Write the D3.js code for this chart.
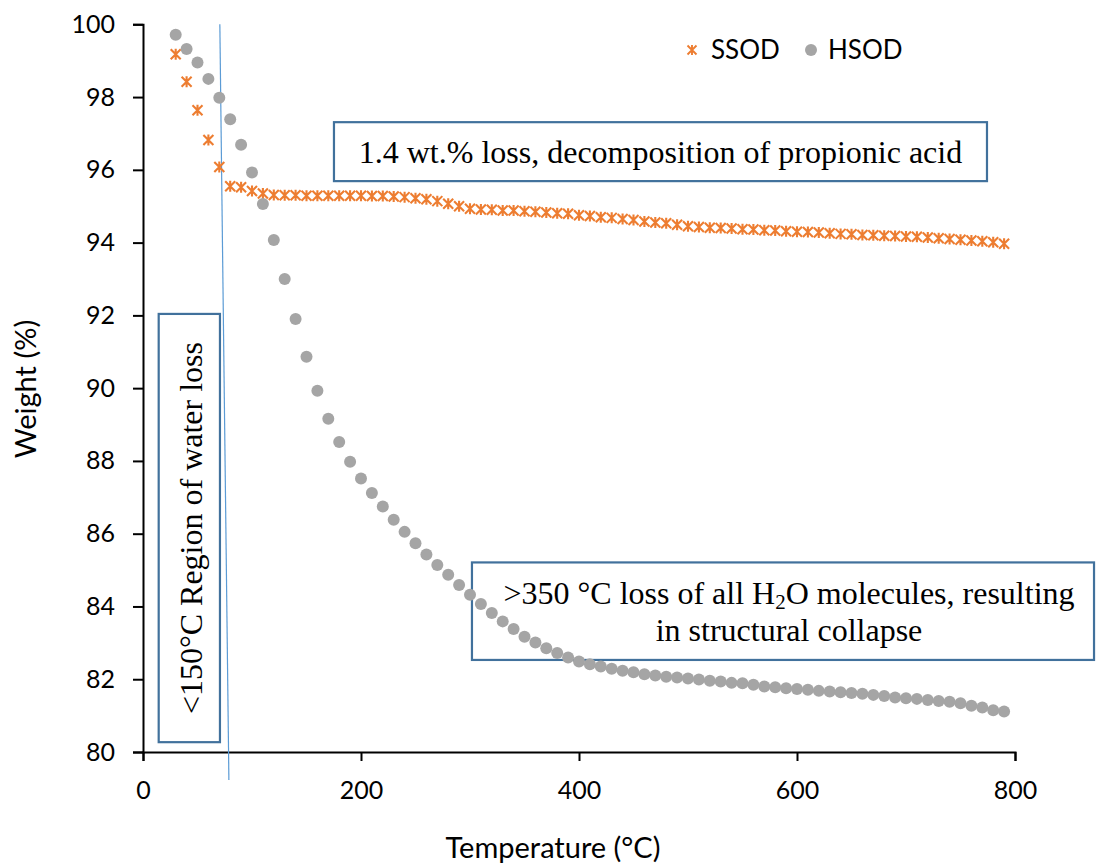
<!DOCTYPE html>
<html>
<head>
<meta charset="utf-8">
<script src="https://cdn.jsdelivr.net/npm/d3@7"></script>
<style>
  html, body { margin: 0; padding: 0; background: #ffffff; }
  svg { display: block; }
</style>
</head>
<body>
<svg id="chart" width="1096" height="863"></svg>
<script>
// Thermogravimetric curves (weight % vs temperature)
const temperature = [30, 40, 50, 60, 70, 80, 90, 100, 110, 120, 130, 140, 150, 160, 170, 180, 190, 200,
  210, 220, 230, 240, 250, 260, 270, 280, 290, 300, 310, 320, 330, 340, 350, 360, 370, 380, 390, 400,
  410, 420, 430, 440, 450, 460, 470, 480, 490, 500, 510, 520, 530, 540, 550, 560, 570, 580, 590, 600,
  610, 620, 630, 640, 650, 660, 670, 680, 690, 700, 710, 720, 730, 740, 750, 760, 770, 780, 790];

const ssod = [99.18, 98.42, 97.64, 96.82, 96.08, 95.55, 95.52, 95.42, 95.35, 95.31, 95.30, 95.30, 95.29,
  95.29, 95.29, 95.29, 95.29, 95.29, 95.28, 95.28, 95.27, 95.25, 95.22, 95.19, 95.14, 95.07, 95.00, 94.93,
  94.91, 94.90, 94.88, 94.88, 94.86, 94.85, 94.83, 94.81, 94.79, 94.75, 94.73, 94.70, 94.68, 94.65, 94.62,
  94.58, 94.55, 94.53, 94.49, 94.45, 94.43, 94.41, 94.40, 94.39, 94.37, 94.36, 94.34, 94.33, 94.31, 94.30,
  94.29, 94.28, 94.26, 94.24, 94.23, 94.21, 94.20, 94.19, 94.18, 94.17, 94.16, 94.14, 94.12, 94.10, 94.08,
  94.06, 94.04, 94.01, 93.97];

const hsod = [99.71, 99.32, 98.95, 98.50, 97.98, 97.39, 96.69, 95.93, 95.06, 94.07, 93.00, 91.90, 90.86,
  89.93, 89.16, 88.52, 87.98, 87.52, 87.12, 86.75, 86.38, 86.05, 85.74, 85.43, 85.14, 84.87, 84.59, 84.32,
  84.07, 83.82, 83.59, 83.38, 83.17, 83.01, 82.85, 82.72, 82.60, 82.49, 82.41, 82.35, 82.29, 82.23, 82.19,
  82.14, 82.10, 82.07, 82.05, 82.02, 81.99, 81.96, 81.94, 81.90, 81.89, 81.85, 81.80, 81.78, 81.75, 81.73,
  81.71, 81.68, 81.66, 81.64, 81.62, 81.60, 81.57, 81.54, 81.50, 81.48, 81.46, 81.43, 81.40, 81.38, 81.34,
  81.27, 81.22, 81.15, 81.11];

const xTicks = [0, 200, 400, 600, 800];
const yTicks = [80, 82, 84, 86, 88, 90, 92, 94, 96, 98, 100];
const seriesNames = ["SSOD", "HSOD"];

const svg = d3.select("#chart");
svg.append("rect").attr("width", 1096).attr("height", 863).attr("fill", "#ffffff");

const x = d3.scaleLinear().domain([0, 800]).range([143, 1015]);
const y = d3.scaleLinear().domain([80, 100]).range([752, 24.3]);

const axisFont = "Lato, 'Open Sans', sans-serif";
const serifFont = "'Liberation Serif', 'Times New Roman', serif";
const boxColor = "#41719C";
const noteSize = "32px";

// Axes
const xAxis = svg.append("g")
  .attr("transform", `translate(0,${y(80)})`)
  .call(d3.axisBottom(x).tickValues(xTicks).tickSize(9).tickPadding(20).tickFormat(d3.format("d")));
const yAxis = svg.append("g")
  .attr("transform", `translate(${x(0)},0)`)
  .call(d3.axisLeft(y).tickValues(yTicks).tickSize(10).tickPadding(18).tickFormat(d3.format("d")));

[xAxis, yAxis].forEach(g => {
  g.select(".domain").attr("stroke", "#000").attr("stroke-width", 2);
  g.selectAll(".tick line").attr("stroke", "#000").attr("stroke-width", 2);
  g.selectAll(".tick text").attr("fill", "#000")
    .style("font-family", axisFont).style("font-size", "25px");
});

// Axis titles
svg.append("text")
  .attr("x", 553).attr("y", 858)
  .attr("text-anchor", "middle")
  .style("font-family", axisFont).style("font-size", "29px")
  .text("Temperature (°C)");
svg.append("text")
  .attr("transform", `translate(36,389) rotate(-90)`)
  .attr("text-anchor", "middle")
  .style("font-family", axisFont).style("font-size", "29px")
  .text("Weight (%)");

// Annotation boxes
function box(t0, t1, w0, w1) {
  svg.append("rect")
    .attr("x", x(t0)).attr("y", y(w0))
    .attr("width", x(t1) - x(t0)).attr("height", y(w1) - y(w0))
    .attr("fill", "none").attr("stroke", boxColor).attr("stroke-width", 2.2);
}
box(175.2, 774.3, 97.31, 95.69);
box(301.8, 872.5, 85.21, 82.53);
box(14.4, 70.6, 92.04, 80.27);

svg.append("text")
  .attr("x", (x(175.2) + x(774.3)) / 2).attr("y", 163)
  .attr("text-anchor", "middle")
  .style("font-family", serifFont).style("font-size", noteSize)
  .text("1.4 wt.% loss, decomposition of propionic acid");

const note2 = svg.append("text")
  .attr("x", 789).attr("y", 604)
  .attr("text-anchor", "middle")
  .style("font-family", serifFont).style("font-size", noteSize);
note2.append("tspan").text(">350 °C loss of all H");
note2.append("tspan").attr("dy", 5).style("font-size", "21px").text("2");
note2.append("tspan").attr("dy", -5).text("O molecules, resulting");
svg.append("text")
  .attr("x", 789).attr("y", 641)
  .attr("text-anchor", "middle")
  .style("font-family", serifFont).style("font-size", noteSize)
  .text("in structural collapse");

svg.append("text")
  .attr("transform", `translate(202,${(y(92.04) + y(80.27)) / 2}) rotate(-90)`)
  .attr("text-anchor", "middle")
  .style("font-family", serifFont).style("font-size", noteSize)
  .text("<150°C Region of water loss");

// Water-loss boundary line
svg.append("line")
  .attr("x1", x(70.5)).attr("y1", y(100))
  .attr("x2", x(78.8)).attr("y2", y(79.23))
  .attr("stroke", "#5B9BD5").attr("stroke-width", 1.2);

// Series markers
const pts = (vals) => temperature.map((t, i) => ({ t, v: vals[i] }));
const star = "M-5,-5L5,5M-5,5L5,-5M0,-5.5L0,5.5";

svg.append("g").selectAll("path")
  .data(pts(ssod)).join("path")
  .attr("transform", d => `translate(${x(d.t)},${y(d.v)})`)
  .attr("d", star)
  .attr("fill", "none").attr("stroke", "#ED7D31").attr("stroke-width", 2.1);

svg.append("g").selectAll("circle")
  .data(pts(hsod)).join("circle")
  .attr("cx", d => x(d.t)).attr("cy", d => y(d.v))
  .attr("r", 6).attr("fill", "#A5A5A5");

// Legend
const legend = svg.append("g");
legend.append("path").attr("transform", "translate(692,50)").attr("d", "M-4.5,-4.5L4.5,4.5M-4.5,4.5L4.5,-4.5M0,-5L0,5")
  .attr("fill", "none").attr("stroke", "#ED7D31").attr("stroke-width", 1.9);
legend.append("text").attr("x", 711).attr("y", 59)
  .style("font-family", axisFont).style("font-size", "26px").text(seriesNames[0]);
legend.append("circle").attr("cx", 811).attr("cy", 50).attr("r", 6).attr("fill", "#A5A5A5");
legend.append("text").attr("x", 828).attr("y", 59)
  .style("font-family", axisFont).style("font-size", "26px").text(seriesNames[1]);
</script>
</body>
</html>
